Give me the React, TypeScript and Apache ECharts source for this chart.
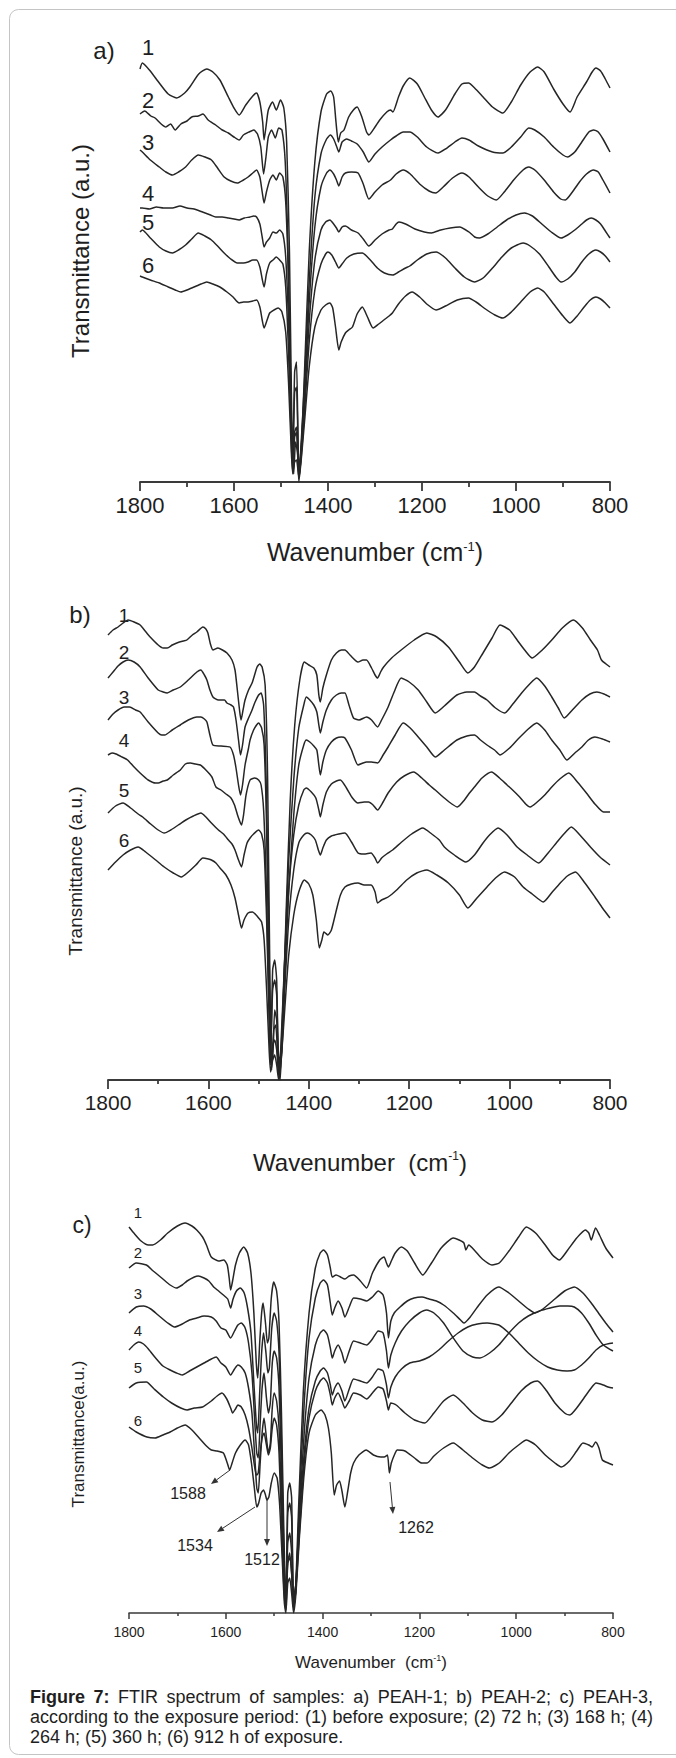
import React, { useEffect, useRef } from "react";
import * as echarts from "echarts";

// ---------- texts ----------
const PANEL_TITLES = ["a)", "b)", "c)"];
const CURVE_NUMBERS = ["1", "2", "3", "4", "5", "6"];
const Y_TITLES = ["Transmittance (a.u.)", "Transmittance (a.u.)", "Transmittance(a.u.)"];
const X_TITLE_MAIN = ["Wavenumber (cm", "Wavenumber  (cm", "Wavenumber  (cm"];
const PEAK_LABELS = ["1588", "1534", "1512", "1262"];
const CAPTION_LINES = [
  "Figure 7: FTIR spectrum of samples: a) PEAH-1; b) PEAH-2; c) PEAH-3,",
  "according to the exposure period: (1) before exposure; (2) 72 h; (3) 168 h; (4)",
  "264 h; (5) 360 h; (6) 912 h of exposure.",
];
const WAVENUMBER_MIN = 800;
const WAVENUMBER_MAX = 1800;
const WAVENUMBER_STEP = 200;

// ---------- panel a) PEAH-1 : [wavenumber, transmittance a.u.] ----------
const A1 = [[1800,413],[1795,419],[1780,412],[1759,399],[1740,388],[1722,384],[1705,389],[1694,395],[1675,408],[1658,413],[1645,410],[1630,402],[1612,385],[1600,374],[1589,367],[1575,377],[1560,386],[1552,389],[1545,380],[1539,360],[1536,342],[1532,355],[1527,372],[1518,380],[1510,372],[1501,382],[1494,374],[1488,340],[1482,230],[1477,60],[1473,8],[1469,40],[1465,30],[1461,5],[1456,40],[1450,110],[1440,230],[1428,320],[1415,370],[1403,388],[1394,391],[1388,385],[1383,360],[1378,340],[1373,349],[1366,352],[1356,365],[1346,372],[1338,375],[1328,365],[1318,350],[1313,347],[1300,355],[1290,362],[1275,370],[1267,372],[1262,370],[1250,385],[1240,396],[1226,404],[1210,398],[1195,385],[1180,372],[1166,365],[1150,372],[1130,388],[1115,398],[1101,399],[1088,394],[1070,385],[1050,375],[1028,369],[1010,380],[990,397],[970,410],[954,415],[940,410],[920,393],[900,378],[885,370],[870,385],[850,400],[838,410],[830,414],[820,411],[810,403],[800,394]];
const A2 = [[1800,368],[1790,371],[1777,366],[1768,364],[1755,358],[1745,355],[1735,358],[1725,352],[1713,358],[1700,361],[1690,365],[1676,366],[1666,368],[1655,362],[1639,357],[1625,352],[1612,349],[1600,345],[1589,342],[1580,347],[1568,350],[1558,352],[1550,348],[1543,335],[1537,308],[1532,325],[1527,345],[1520,352],[1512,344],[1505,354],[1498,352],[1491,320],[1485,230],[1479,80],[1475,15],[1471,50],[1467,55],[1462,6],[1457,40],[1450,100],[1440,200],[1428,285],[1415,328],[1403,343],[1395,347],[1388,343],[1382,336],[1377,330],[1370,340],[1360,343],[1350,341],[1338,338],[1325,330],[1313,320],[1300,328],[1285,335],[1267,342],[1255,346],[1240,350],[1226,350],[1210,345],[1190,335],[1166,329],[1150,333],[1130,340],[1115,344],[1100,342],[1080,336],[1050,330],[1028,329],[1010,335],[990,345],[973,354],[960,352],[940,345],[920,335],[900,327],[890,325],[875,330],[860,340],[845,350],[835,352],[825,350],[815,343],[800,330]];
const A3 = [[1800,332],[1795,330],[1778,322],[1759,315],[1745,310],[1731,307],[1718,310],[1703,315],[1690,322],[1676,327],[1662,325],[1648,322],[1635,314],[1621,305],[1607,301],[1593,299],[1580,302],[1570,305],[1560,309],[1552,312],[1545,305],[1540,290],[1536,279],[1531,290],[1524,302],[1517,307],[1510,302],[1503,309],[1496,305],[1490,280],[1484,200],[1478,70],[1475,25],[1471,90],[1467,95],[1462,10],[1457,35],[1450,90],[1440,180],[1428,255],[1415,295],[1403,309],[1396,312],[1388,308],[1382,302],[1377,296],[1370,305],[1363,309],[1350,310],[1336,309],[1325,298],[1313,283],[1300,290],[1285,297],[1267,302],[1255,308],[1240,312],[1225,308],[1205,298],[1185,291],[1171,289],[1155,295],[1135,304],[1115,309],[1100,305],[1080,295],[1060,286],[1042,282],[1025,290],[1005,302],[985,312],[973,315],[960,312],[940,302],[920,290],[905,283],[895,282],[880,290],[865,300],[850,308],[835,312],[825,310],[815,302],[800,289]];
const A4 = [[1800,274],[1795,274],[1780,273],[1765,275],[1750,274],[1731,274],[1715,276],[1700,274],[1685,273],[1667,270],[1650,267],[1639,265],[1625,265],[1612,264],[1600,263],[1589,262],[1578,264],[1566,265],[1558,266],[1552,265],[1545,258],[1540,245],[1536,235],[1531,240],[1524,244],[1517,250],[1510,249],[1503,252],[1496,248],[1490,225],[1484,160],[1478,60],[1475,20],[1471,110],[1467,120],[1462,12],[1457,30],[1450,80],[1440,160],[1428,222],[1415,252],[1405,260],[1396,262],[1388,258],[1382,254],[1377,250],[1370,255],[1363,256],[1350,252],[1336,249],[1325,243],[1313,236],[1300,242],[1285,248],[1270,252],[1263,253],[1255,258],[1249,260],[1235,258],[1215,253],[1195,250],[1180,249],[1160,252],[1140,254],[1120,255],[1100,250],[1088,245],[1078,244],[1060,248],[1040,255],[1020,262],[1000,267],[982,269],[965,266],[945,258],[925,250],[904,244],[890,247],[875,252],[860,258],[850,262],[840,264],[830,262],[820,258],[810,251],[800,244]];
const A5 = [[1800,250],[1795,252],[1778,244],[1759,235],[1745,231],[1731,229],[1718,232],[1703,237],[1690,243],[1676,249],[1662,246],[1648,242],[1635,236],[1621,229],[1607,223],[1593,219],[1580,219],[1570,220],[1560,222],[1552,222],[1545,215],[1540,203],[1536,195],[1531,208],[1524,219],[1517,222],[1510,225],[1503,222],[1496,218],[1490,195],[1484,130],[1478,40],[1475,10],[1471,20],[1467,22],[1462,5],[1457,25],[1450,70],[1440,140],[1428,192],[1415,218],[1405,228],[1400,230],[1392,227],[1384,220],[1377,214],[1370,218],[1360,224],[1345,228],[1327,229],[1310,222],[1295,214],[1280,209],[1262,207],[1250,210],[1235,214],[1226,216],[1210,222],[1190,228],[1170,230],[1150,224],[1130,214],[1110,205],[1088,200],[1070,204],[1050,214],[1030,225],[1010,234],[985,239],[970,236],[950,228],[930,215],[915,205],[904,200],[890,203],[875,210],[860,220],[845,228],[830,232],[820,230],[810,226],[800,220]];
const A6 = [[1800,206],[1795,205],[1778,202],[1759,199],[1740,195],[1725,192],[1713,190],[1700,192],[1685,195],[1670,198],[1658,200],[1645,198],[1630,195],[1615,190],[1602,185],[1589,179],[1580,180],[1570,180],[1560,181],[1552,182],[1545,175],[1540,162],[1536,154],[1531,160],[1524,169],[1515,172],[1506,174],[1498,170],[1490,150],[1484,100],[1478,30],[1475,8],[1471,45],[1467,50],[1462,0],[1457,22],[1450,60],[1440,115],[1428,155],[1415,172],[1405,177],[1396,179],[1390,174],[1384,155],[1377,132],[1372,140],[1363,149],[1356,152],[1348,155],[1338,168],[1327,175],[1316,165],[1304,154],[1292,158],[1281,162],[1270,166],[1263,169],[1250,178],[1235,186],[1221,190],[1205,185],[1190,178],[1170,172],[1150,176],[1125,182],[1101,184],[1085,180],[1065,173],[1045,167],[1028,164],[1010,170],[990,180],[970,190],[954,194],[940,190],[920,178],[900,166],[885,159],[870,166],[855,175],[842,182],[830,185],[820,183],[810,179],[800,174]];

// ---------- panel b) PEAH-2 ----------
const B1 = [[1800,445],[1790,450],[1780,453],[1770,457],[1760,460],[1748,458],[1736,455],[1726,449],[1716,443],[1700,435],[1690,432],[1682,432],[1672,435],[1663,437],[1650,439],[1643,440],[1632,445],[1623,448],[1611,453],[1605,451],[1601,447],[1596,436],[1591,430],[1581,432],[1572,430],[1563,427],[1553,420],[1547,410],[1543,393],[1538,370],[1535,360],[1531,370],[1527,380],[1520,390],[1513,397],[1508,405],[1503,413],[1498,416],[1493,413],[1487,395],[1482,300],[1477,80],[1474,10],[1470,50],[1466,55],[1461,15],[1457,0],[1452,60],[1445,170],[1437,280],[1428,355],[1418,400],[1409,418],[1400,415],[1390,412],[1384,405],[1380,385],[1377,378],[1372,392],[1365,405],[1355,420],[1345,427],[1335,430],[1328,430],[1318,425],[1302,418],[1292,420],[1285,420],[1275,412],[1268,405],[1263,402],[1257,408],[1251,413],[1235,422],[1216,430],[1190,440],[1165,447],[1145,443],[1122,433],[1100,418],[1083,407],[1070,413],[1053,427],[1035,442],[1019,455],[1000,450],[985,440],[970,430],[955,422],[935,430],[916,440],[895,452],[873,460],[855,452],[839,440],[825,430],[817,420],[808,416],[800,413]];
const B2 = [[1800,402],[1790,408],[1780,414],[1770,418],[1760,420],[1748,418],[1736,413],[1720,402],[1700,390],[1690,388],[1682,387],[1670,390],[1656,393],[1640,400],[1623,408],[1615,410],[1608,405],[1603,400],[1597,390],[1591,383],[1580,380],[1568,380],[1563,377],[1555,375],[1550,373],[1545,360],[1540,340],[1536,325],[1532,335],[1527,353],[1520,362],[1513,370],[1507,378],[1500,385],[1495,387],[1490,375],[1485,300],[1480,160],[1476,30],[1472,20],[1468,70],[1464,60],[1459,10],[1455,30],[1448,120],[1440,220],[1430,300],[1420,352],[1410,375],[1405,383],[1398,380],[1390,375],[1384,368],[1380,355],[1377,347],[1372,358],[1365,370],[1355,380],[1345,385],[1335,387],[1328,387],[1320,375],[1311,362],[1300,360],[1285,363],[1275,360],[1263,353],[1255,360],[1242,373],[1230,388],[1216,402],[1200,398],[1182,390],[1165,378],[1148,367],[1130,374],[1105,385],[1085,388],[1070,388],[1058,384],[1045,380],[1028,372],[1010,367],[995,375],[976,387],[960,396],[946,402],[930,394],[916,383],[903,372],[891,362],[875,370],[856,380],[840,386],[826,388],[812,386],[800,383]];
const B3 = [[1800,360],[1790,366],[1780,370],[1768,373],[1757,373],[1745,370],[1736,368],[1720,358],[1700,347],[1693,345],[1687,345],[1672,350],[1656,355],[1640,360],[1623,363],[1615,363],[1608,361],[1603,358],[1597,345],[1591,335],[1575,334],[1557,333],[1550,325],[1545,312],[1540,295],[1536,285],[1532,295],[1527,315],[1520,332],[1517,340],[1510,350],[1504,355],[1500,357],[1494,352],[1489,335],[1484,250],[1479,100],[1476,30],[1472,90],[1468,100],[1464,85],[1460,20],[1455,20],[1448,100],[1440,190],[1430,265],[1420,315],[1410,335],[1405,340],[1398,338],[1390,334],[1384,330],[1380,315],[1377,305],[1372,318],[1365,330],[1355,338],[1345,342],[1335,343],[1328,342],[1315,330],[1302,315],[1292,317],[1285,318],[1275,318],[1263,317],[1252,325],[1242,333],[1228,345],[1212,357],[1198,352],[1182,343],[1165,333],[1148,323],[1130,330],[1105,340],[1085,344],[1070,345],[1058,340],[1045,335],[1030,330],[1019,325],[1000,332],[985,340],[965,350],[946,357],[930,350],[916,340],[900,330],[886,320],[870,327],[856,333],[843,340],[830,343],[815,341],[800,338]];
const B4 = [[1800,325],[1792,327],[1784,326],[1772,323],[1761,320],[1748,313],[1736,307],[1720,300],[1705,297],[1700,297],[1690,299],[1682,300],[1670,305],[1656,310],[1646,316],[1636,317],[1626,316],[1616,315],[1605,310],[1593,303],[1585,293],[1575,290],[1565,286],[1555,282],[1548,275],[1542,265],[1537,258],[1534,255],[1530,265],[1525,285],[1517,300],[1508,302],[1500,300],[1495,295],[1490,270],[1485,200],[1480,90],[1476,25],[1472,110],[1468,120],[1464,100],[1460,15],[1456,30],[1449,110],[1440,190],[1430,245],[1420,275],[1410,290],[1405,292],[1395,288],[1386,282],[1380,270],[1377,263],[1372,275],[1365,288],[1355,296],[1345,299],[1337,300],[1325,292],[1313,282],[1302,277],[1290,278],[1281,278],[1272,275],[1263,270],[1252,278],[1242,287],[1225,298],[1210,304],[1191,308],[1175,302],[1160,295],[1148,290],[1130,282],[1115,276],[1104,273],[1090,280],[1080,287],[1070,293],[1055,302],[1036,308],[1020,302],[1005,295],[994,290],[980,283],[968,276],[959,273],[945,278],[930,285],[916,293],[900,301],[882,307],[865,298],[847,287],[830,276],[813,268],[800,268]];
const B5 = [[1800,267],[1785,274],[1770,277],[1755,272],[1740,266],[1731,263],[1715,256],[1700,250],[1688,247],[1675,250],[1660,255],[1645,260],[1630,264],[1615,267],[1605,263],[1594,257],[1580,250],[1570,246],[1560,240],[1553,236],[1547,230],[1540,220],[1534,213],[1529,225],[1523,237],[1517,242],[1510,246],[1500,250],[1494,246],[1489,230],[1484,160],[1479,60],[1476,15],[1472,35],[1468,40],[1464,30],[1460,5],[1455,25],[1448,90],[1440,160],[1430,210],[1420,237],[1410,245],[1403,247],[1395,245],[1387,240],[1381,230],[1377,225],[1372,232],[1365,240],[1355,244],[1340,246],[1328,247],[1315,238],[1302,227],[1290,226],[1276,227],[1268,222],[1263,217],[1255,222],[1245,226],[1233,230],[1215,238],[1195,246],[1173,252],[1155,246],[1140,240],[1130,233],[1110,225],[1087,218],[1070,225],[1053,237],[1040,245],[1023,252],[1005,245],[985,233],[965,225],[942,217],[925,226],[907,237],[892,246],[877,253],[860,245],[839,233],[820,223],[800,215]];
const B6 = [[1800,210],[1785,218],[1770,225],[1755,230],[1740,233],[1725,228],[1705,220],[1688,213],[1670,207],[1654,203],[1640,208],[1625,215],[1611,222],[1600,221],[1594,220],[1585,217],[1577,212],[1565,205],[1555,195],[1547,182],[1540,165],[1534,152],[1529,160],[1521,167],[1512,168],[1505,165],[1500,162],[1494,158],[1489,140],[1484,90],[1479,30],[1476,8],[1472,20],[1468,25],[1464,15],[1460,0],[1455,20],[1448,70],[1440,125],[1430,165],[1420,188],[1409,200],[1400,196],[1392,185],[1385,160],[1379,132],[1374,140],[1370,148],[1367,147],[1362,145],[1355,150],[1345,170],[1337,185],[1328,193],[1315,196],[1302,197],[1290,195],[1276,195],[1268,188],[1263,177],[1255,180],[1242,183],[1225,190],[1205,200],[1185,207],[1165,210],[1145,205],[1122,197],[1100,185],[1083,172],[1065,182],[1045,193],[1028,202],[1010,208],[990,203],[973,193],[955,186],[933,178],[915,188],[899,197],[885,204],[869,208],[850,197],[830,183],[815,172],[800,162]];

// ---------- panel c) PEAH-3 ----------
const C1 = [[1800,386],[1790,380],[1775,372],[1760,368],[1751,368],[1735,373],[1720,380],[1700,387],[1684,390],[1670,387],[1660,383],[1648,376],[1640,368],[1630,356],[1615,352],[1604,353],[1597,348],[1593,335],[1590,323],[1586,332],[1580,348],[1572,360],[1563,366],[1555,360],[1548,340],[1542,300],[1537,250],[1534,235],[1530,270],[1526,300],[1523,310],[1518,290],[1514,270],[1511,275],[1506,315],[1501,331],[1495,322],[1490,290],[1485,200],[1480,80],[1476,15],[1472,50],[1468,55],[1464,40],[1460,5],[1456,20],[1450,100],[1440,220],[1428,300],[1415,345],[1405,360],[1398,363],[1390,358],[1384,345],[1380,336],[1372,338],[1363,336],[1354,334],[1345,337],[1336,338],[1322,332],[1309,325],[1297,340],[1282,353],[1273,356],[1268,350],[1264,346],[1258,352],[1250,360],[1237,366],[1225,362],[1210,350],[1193,338],[1175,350],[1155,365],[1130,375],[1118,373],[1108,370],[1104,363],[1098,368],[1085,362],[1070,354],[1050,348],[1035,350],[1015,362],[995,376],[979,386],[960,380],[940,368],[925,358],[911,353],[895,362],[875,375],[857,383],[850,380],[845,373],[840,380],[836,385],[828,378],[815,365],[800,355]];
const C2 = [[1800,345],[1785,350],[1764,348],[1750,342],[1730,334],[1715,328],[1702,325],[1690,328],[1680,332],[1665,336],[1657,337],[1645,335],[1635,332],[1625,326],[1615,322],[1605,318],[1596,314],[1590,305],[1585,314],[1578,322],[1570,325],[1562,320],[1555,305],[1548,280],[1542,230],[1537,190],[1534,180],[1530,220],[1526,260],[1522,280],[1517,260],[1513,240],[1510,245],[1505,285],[1500,300],[1495,292],[1490,260],[1485,170],[1480,60],[1476,10],[1472,70],[1468,80],[1464,60],[1460,8],[1455,25],[1448,110],[1438,210],[1428,275],[1415,315],[1405,330],[1398,333],[1390,328],[1384,310],[1380,298],[1375,305],[1368,312],[1360,305],[1354,296],[1345,306],[1336,315],[1322,314],[1309,312],[1297,316],[1285,322],[1275,318],[1268,300],[1264,275],[1259,292],[1252,300],[1240,306],[1225,312],[1211,315],[1195,316],[1180,314],[1165,312],[1150,308],[1130,300],[1115,293],[1108,290],[1095,296],[1080,306],[1060,318],[1036,326],[1015,320],[995,312],[975,304],[961,300],[945,304],[925,312],[900,322],[880,326],[862,320],[845,310],[830,300],[815,290],[800,281]];
const C3 = [[1800,300],[1785,306],[1770,307],[1755,304],[1740,298],[1720,290],[1706,286],[1690,289],[1675,293],[1660,295],[1645,297],[1630,296],[1620,292],[1610,285],[1600,283],[1590,275],[1582,282],[1575,288],[1568,290],[1560,285],[1553,270],[1546,240],[1540,190],[1536,160],[1533,155],[1529,190],[1525,225],[1521,240],[1516,215],[1512,200],[1508,210],[1504,250],[1500,262],[1495,255],[1490,225],[1485,140],[1480,50],[1476,8],[1472,100],[1468,110],[1464,95],[1460,12],[1455,30],[1448,100],[1438,180],[1428,235],[1415,268],[1405,280],[1398,283],[1390,278],[1384,265],[1380,255],[1375,262],[1368,268],[1360,260],[1354,250],[1345,262],[1336,272],[1322,270],[1309,268],[1297,274],[1285,282],[1275,280],[1268,262],[1264,245],[1259,258],[1250,270],[1237,282],[1220,292],[1200,300],[1185,303],[1170,300],[1150,290],[1130,275],[1110,262],[1090,256],[1075,255],[1055,260],[1036,268],[1015,280],[995,290],[975,297],[952,302],[930,305],[910,307],[893,307],[880,306],[865,300],[850,290],[835,278],[820,268],[800,262]];
const C4 = [[1800,263],[1790,268],[1780,271],[1770,269],[1760,264],[1745,255],[1730,247],[1715,243],[1702,240],[1690,238],[1675,242],[1660,246],[1645,250],[1630,254],[1620,256],[1610,250],[1600,246],[1590,238],[1582,244],[1575,248],[1568,246],[1560,240],[1553,225],[1546,200],[1540,155],[1536,125],[1533,120],[1529,150],[1525,180],[1521,195],[1516,175],[1512,160],[1508,170],[1504,205],[1500,220],[1495,212],[1490,185],[1485,110],[1480,35],[1476,5],[1472,120],[1468,130],[1464,115],[1460,15],[1455,30],[1448,95],[1438,160],[1428,205],[1415,232],[1405,242],[1398,245],[1390,240],[1384,228],[1380,218],[1375,225],[1368,230],[1360,222],[1354,212],[1345,224],[1336,234],[1322,232],[1309,230],[1297,236],[1285,244],[1275,242],[1268,228],[1264,215],[1259,226],[1250,236],[1237,244],[1220,250],[1200,252],[1180,256],[1160,263],[1140,272],[1120,280],[1100,286],[1080,289],[1060,290],[1036,288],[1015,280],[995,270],[975,260],[955,252],[935,246],[915,243],[895,242],[880,243],[865,248],[850,255],[835,263],[820,268],[800,270]];
const C5 = [[1800,225],[1785,230],[1764,231],[1748,224],[1729,216],[1712,210],[1693,205],[1680,203],[1665,205],[1648,206],[1630,212],[1618,217],[1608,220],[1598,214],[1590,205],[1586,200],[1580,204],[1575,208],[1568,206],[1560,198],[1553,185],[1546,165],[1540,145],[1536,138],[1533,140],[1529,160],[1525,175],[1521,180],[1516,168],[1512,158],[1508,165],[1504,185],[1500,195],[1495,188],[1490,160],[1485,90],[1480,25],[1476,3],[1472,50],[1468,60],[1464,40],[1460,5],[1455,25],[1448,80],[1438,150],[1428,195],[1415,222],[1405,232],[1398,235],[1390,230],[1384,218],[1380,208],[1375,215],[1368,220],[1360,212],[1354,205],[1345,212],[1336,220],[1322,218],[1309,214],[1297,220],[1285,226],[1275,224],[1268,212],[1264,203],[1259,210],[1248,208],[1230,200],[1210,193],[1189,190],[1170,200],[1150,212],[1130,218],[1110,210],[1090,200],[1070,193],[1050,191],[1030,198],[1010,210],[990,222],[970,230],[956,232],[940,224],[920,210],[900,200],[889,198],[875,205],[860,215],[845,225],[835,230],[820,228],[810,226],[800,225]];
const C6 = [[1800,186],[1785,181],[1763,176],[1746,175],[1730,178],[1715,181],[1700,185],[1684,188],[1670,183],[1655,175],[1640,167],[1630,163],[1618,162],[1605,160],[1597,150],[1592,143],[1587,150],[1580,160],[1570,168],[1560,173],[1553,168],[1547,150],[1541,125],[1536,106],[1532,110],[1527,120],[1522,123],[1518,118],[1515,113],[1511,116],[1506,130],[1500,140],[1494,135],[1489,110],[1484,60],[1479,10],[1476,0],[1472,30],[1468,35],[1464,20],[1460,0],[1455,20],[1448,75],[1438,140],[1428,180],[1415,198],[1403,203],[1395,198],[1388,185],[1382,160],[1376,118],[1371,128],[1365,132],[1360,122],[1354,106],[1348,122],[1342,140],[1336,150],[1325,158],[1310,163],[1295,158],[1280,156],[1273,156],[1266,158],[1262,140],[1258,150],[1250,160],[1246,163],[1230,162],[1210,155],[1195,150],[1184,150],[1170,157],[1150,165],[1130,170],[1110,163],[1090,155],[1070,148],[1055,145],[1035,150],[1015,160],[995,168],[979,173],[960,168],[940,158],[920,150],[907,146],[890,152],[875,162],[862,170],[850,168],[843,166],[836,171],[829,165],[822,153],[810,150],[800,148]];

const PANEL_SERIES = [
  [A1, A2, A3, A4, A5, A6],
  [B1, B2, B3, B4, B5, B6],
  [C1, C2, C3, C4, C5, C6],
];

const FONT = '"Liberation Sans", Arial, Helvetica, sans-serif';
const INK = "#1e1e1e";

// layout of the three panels (pixels)
const PANELS = [
  { left: 140, width: 470, top: 62, height: 420, tickFont: 22, tickLen: 9, minorLen: 5, labelMargin: 12, axisW: 1.8,
    title: [104, 50, 24], nums: { x: 148, ys: [47, 100, 142, 193, 222, 265], size: 22 },
    yTitle: [80, 251, 24], xTitle: [375, 552, 25, 13] },
  { left: 108, width: 502, top: 600, height: 480, tickFont: 21, tickLen: 9, minorLen: 4, labelMargin: 12, axisW: 1.8,
    title: [80, 614, 24], nums: { x: 124, ys: [615, 652, 697, 740, 790, 840], size: 19 },
    yTitle: [75, 871, 19], xTitle: [360, 1162, 24, 12] },
  { left: 129, width: 484, top: 1190, height: 423, tickFont: 14, tickLen: 6, minorLen: 3, labelMargin: 12, axisW: 1.5,
    title: [82, 1225, 23], nums: { x: 138, ys: [1212, 1252, 1293, 1330, 1367, 1420], size: 15 },
    yTitle: [78, 1434, 17], xTitle: [371, 1662, 17, 9] },
];

const ANNOTATIONS = [
  { text: PEAK_LABELS[0], tx: 188, ty: 1493, from: [230, 1470], to: [211, 1484] },
  { text: PEAK_LABELS[1], tx: 195, ty: 1545, from: [255, 1507], to: [217, 1532] },
  { text: PEAK_LABELS[2], tx: 262, ty: 1559, from: [267, 1500], to: [267, 1546] },
  { text: PEAK_LABELS[3], tx: 416, ty: 1527, from: [390, 1482], to: [393, 1514] },
];

function txt(x: number, y: number, text: string, size: number, extra: any = {}) {
  return {
    type: "text",
    x,
    y,
    silent: true,
    ...extra,
    style: {
      text,
      fontSize: size,
      fontFamily: FONT,
      fill: INK,
      align: "center",
      verticalAlign: "middle",
      textAlign: "center",
      textVerticalAlign: "middle",
      ...(extra.style || {}),
    },
  };
}

function arrow(x1: number, y1: number, x2: number, y2: number) {
  const dx = x2 - x1, dy = y2 - y1;
  const L = Math.hypot(dx, dy);
  const ux = dx / L, uy = dy / L;
  const hl = 7, hw = 3;
  const bx = x2 - ux * hl, by = y2 - uy * hl;
  return [
    { type: "line", silent: true, shape: { x1, y1, x2: bx, y2: by }, style: { stroke: "#333", lineWidth: 1 } },
    { type: "polygon", silent: true, shape: { points: [[x2, y2], [bx - uy * hw, by + ux * hw], [bx + uy * hw, by - ux * hw]] }, style: { fill: "#333" } },
  ];
}

function captionElements() {
  const canvas = document.createElement("canvas");
  const ctx = canvas.getContext("2d") as CanvasRenderingContext2D;
  const size = 18;
  const measure = (t: string, bold: boolean) => {
    ctx.font = `${bold ? "bold " : ""}${size}px ${FONT}`;
    return ctx.measureText(t).width;
  };
  const x0 = 30, x1 = 653;
  const ys = [1697, 1717, 1737];
  const els: any[] = [];
  CAPTION_LINES.forEach((line, li) => {
    if (li === 2) {
      els.push({ type: "text", x: x0, y: ys[li], silent: true,
        style: { text: line, fontSize: size, fontFamily: FONT, fill: INK, align: "left", verticalAlign: "middle", textAlign: "left", textVerticalAlign: "middle" } });
      return;
    }
    const words = line.split(" ");
    const boldN = li === 0 ? 2 : 0;
    const widths = words.map((w, i) => measure(w, i < boldN));
    const total = widths.reduce((a, b) => a + b, 0);
    const gap = Math.max(2, (x1 - x0 - total) / (words.length - 1));
    let x = x0;
    words.forEach((w, i) => {
      els.push({ type: "text", x, y: ys[li], silent: true,
        style: { text: w, fontSize: size, fontFamily: FONT, fontWeight: i < boldN ? "bold" : "normal", fill: INK,
          align: "left", verticalAlign: "middle", textAlign: "left", textVerticalAlign: "middle" } });
      x += widths[i] + gap;
    });
  });
  return els;
}

export default function App() {
  const ref = useRef<HTMLDivElement>(null);

  useEffect(() => {
    document.body.style.margin = "0";
    if (!ref.current) return;
    const chart = echarts.init(ref.current, null, { renderer: "svg" });

    const grid = PANELS.map((p) => ({ left: p.left, width: p.width, top: p.top, height: p.height, containLabel: false }));
    const xAxis = PANELS.map((p, i) => ({
      type: "value",
      gridIndex: i,
      min: WAVENUMBER_MIN,
      max: WAVENUMBER_MAX,
      interval: WAVENUMBER_STEP,
      inverse: true,
      axisLine: { show: true, onZero: false, lineStyle: { color: "#3a3a3a", width: p.axisW } },
      axisTick: { show: true, inside: false, length: p.tickLen, lineStyle: { color: "#3a3a3a", width: p.axisW } },
      minorTick: { show: true, splitNumber: 2, length: p.minorLen, lineStyle: { color: "#3a3a3a", width: p.axisW } },
      splitLine: { show: false },
      minorSplitLine: { show: false },
      axisLabel: {
        fontSize: p.tickFont,
        fontFamily: FONT,
        color: INK,
        margin: p.labelMargin,
        formatter: (v: number) => String(v),
      },
    }));
    const yAxis = PANELS.map((p, i) => ({ type: "value", gridIndex: i, min: 0, max: p.height, show: false }));

    const series: any[] = [];
    PANEL_SERIES.forEach((curves, pi) => {
      curves.forEach((data, ci) => {
        series.push({
          type: "line",
          name: `${PANEL_TITLES[pi]} ${CURVE_NUMBERS[ci]}`,
          xAxisIndex: pi,
          yAxisIndex: pi,
          data,
          showSymbol: false,
          symbol: "none",
          smooth: 0.2,
          silent: true,
          lineStyle: { color: "#262626", width: 1.5 },
        });
      });
    });

    const graphics: any[] = [
      { type: "rect", silent: true, shape: { x: 9.5, y: 9.5, width: 700, height: 1745, r: 9 }, style: { fill: "none", stroke: "#c4c4c4", lineWidth: 1 } },
    ];
    PANELS.forEach((p, i) => {
      graphics.push(txt(p.title[0], p.title[1], PANEL_TITLES[i], p.title[2]));
      CURVE_NUMBERS.forEach((n, k) => graphics.push(txt(p.nums.x, p.nums.ys[k], n, p.nums.size)));
      graphics.push(txt(p.yTitle[0], p.yTitle[1], Y_TITLES[i], p.yTitle[2], { rotation: Math.PI / 2 }));
      const [cx, cy, fs, ss] = p.xTitle;
      graphics.push({
        type: "text",
        x: cx,
        y: cy,
        silent: true,
        style: {
          text: `{m|${X_TITLE_MAIN[i]}}{s|-1}{m|)}`,
          align: "center",
          verticalAlign: "middle",
          textAlign: "center",
          textVerticalAlign: "middle",
          rich: {
            m: { fontSize: fs, fontFamily: FONT, fill: INK, color: INK },
            s: { fontSize: ss, fontFamily: FONT, fill: INK, color: INK, verticalAlign: "top" },
          },
        },
      });
    });
    ANNOTATIONS.forEach((a) => {
      graphics.push(txt(a.tx, a.ty, a.text, 16));
      graphics.push(...arrow(a.from[0], a.from[1], a.to[0], a.to[1]));
    });
    graphics.push(...captionElements());

    chart.setOption({
      animation: false,
      backgroundColor: "#ffffff",
      grid,
      xAxis,
      yAxis,
      series,
      graphic: { elements: graphics },
    });

    return () => chart.dispose();
  }, []);

  return (
    <div
      ref={ref}
      style={{ position: "absolute", left: 0, top: 0, width: 676, height: 1758, background: "#fff" }}
    />
  );
}
